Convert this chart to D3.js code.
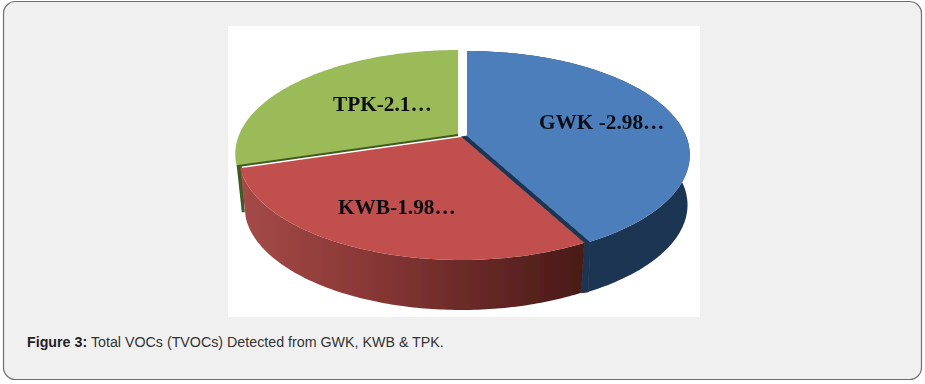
<!DOCTYPE html>
<html><head><meta charset="utf-8">
<script src="https://cdnjs.cloudflare.com/ajax/libs/d3/7.8.5/d3.min.js"></script>
<style>html,body{margin:0;padding:0;background:#fff}svg{display:block}</style>
</head><body><svg id="c" width="925" height="384"></svg>
<script>
const categories = ["GWK", "KWB", "TPK"];
const values = [2.98, 1.98, 2.1];
const labels = ["GWK -2.98…", "KWB-1.98…", "TPK-2.1…"];
const topColors = ["#4c7eba", "#c0504d", "#9bbb59"];
const captionBold = "Figure 3:";
const captionText = " Total VOCs (TVOCs) Detected from GWK, KWB & TPK.";

const svg = d3.select("#c");
const defs = svg.append("defs");
defs.append("filter").attr("id","soft").attr("x","-5%").attr("y","-5%").attr("width","110%").attr("height","110%")
  .append("feGaussianBlur").attr("stdDeviation",0.7);
defs.append("filter").attr("id","softText").attr("x","-5%").attr("y","-20%").attr("width","110%").attr("height","140%")
  .append("feGaussianBlur").attr("stdDeviation",0.4);
const grad = defs.append("linearGradient").attr("id","redWall")
  .attr("gradientUnits","userSpaceOnUse").attr("x1",246).attr("x2",582).attr("y1",0).attr("y2",0);
[[0,"#a34a47"],[0.35,"#8a3836"],[0.65,"#6b2a28"],[1,"#4a1a18"]].forEach(s=>grad.append("stop").attr("offset",s[0]).attr("stop-color",s[1]));

// page card and image panel
svg.append("rect").attr("x",3.5).attr("y",1.5).attr("width",918).attr("height",378).attr("rx",12)
  .attr("fill","#f0f0f0").attr("stroke","#6e6e6e").attr("stroke-width",1.2);
svg.append("rect").attr("x",228).attr("y",26).attr("width",472).attr("height",291).attr("fill","#fff");

// perspective view of a tilted disc
const S = 219, A = 100.5, K = 0.1827;
function project(theta, c, sx=1, dy=0) {
  const X = Math.sin(theta), Y = Math.cos(theta), d = 1 + K*Y;
  return [c[0] + sx*S*X/d, c[1] + dy - A*Y/d];
}
const arcs = d3.pie().value(d=>d).sort(null)(values);
const centers = [[467,136],[461.5,137],[458,135]];
const line = d3.line();
const rim = (a0,a1,c,sx,dy) => d3.range(0,121).map(i=>project(a0+(a1-a0)*i/120,c,sx,dy));
const chart = svg.append("g").attr("filter","url(#soft)");
const depth = 50, shrinkBlue = 0.99, shrinkRed = 0.975, blueSide = "#1f3552";

// green sliver wall
const g = arcs[2], gc = centers[2];
const gStart = project(g.startAngle,gc);
chart.append("path").attr("fill","#3f5a22")
  .attr("d",line([gStart,[gStart[0]+5,gStart[1]],[gStart[0]+8,gStart[1]+46],[gStart[0]+5,gStart[1]+46]])+"Z");
// blue outer wall
chart.append("path").attr("fill",blueSide).attr("d",
  line(rim(arcs[0].startAngle,arcs[0].endAngle,centers[0],1,0)
   .concat(rim(arcs[0].endAngle,arcs[0].startAngle,centers[0],shrinkBlue,depth)))+"Z");
// blue inner cut face, seen through the gap to the red slice
const bEnd = project(arcs[0].endAngle,centers[0]);
const bLow = project(arcs[0].endAngle,centers[0],shrinkBlue,depth);
const rEnd = project(arcs[1].startAngle,centers[1]);
const rLow = project(arcs[1].startAngle,centers[1],shrinkRed,depth);
chart.append("path").attr("fill",blueSide).attr("stroke",blueSide).attr("stroke-width",1)
  .attr("d",line([centers[0],bEnd,bLow,rLow,rEnd,centers[1]])+"Z");
// red outer wall
chart.append("path").attr("fill","url(#redWall)").attr("d",
  line(rim(arcs[1].startAngle,arcs[1].endAngle,centers[1],1,0)
   .concat(rim(arcs[1].endAngle,arcs[1].startAngle,centers[1],shrinkRed,depth)))+"Z");
// top faces
arcs.forEach((a,i)=>{
  chart.append("path").attr("fill",topColors[i])
    .attr("d",line([centers[i]].concat(rim(a.startAngle,a.endAngle,centers[i],1,0)))+"Z");
});
chart.append("path").attr("fill","none").attr("stroke","#3f5a22").attr("stroke-width",2)
  .attr("d",line([gStart,centers[2]]));

// labels
const labelPos = [[539,129],[338,214],[333,111]];
svg.selectAll("text.lab").data(labels).join("text").attr("class","lab")
  .attr("x",(d,i)=>labelPos[i][0]).attr("y",(d,i)=>labelPos[i][1])
  .attr("font-family","'Liberation Serif',serif").attr("font-weight","bold").attr("font-size",21.3)
  .attr("fill","#0c1116").attr("filter","url(#softText)").text(d=>d);

// caption
const cap = svg.append("text").attr("x",27).attr("y",347)
  .attr("font-family","'Liberation Sans',Arial,sans-serif").attr("font-size",14.25).attr("fill","#333");
cap.append("tspan").attr("font-weight","bold").attr("fill","#222").text(captionBold);
cap.append("tspan").text(captionText);
</script></body></html>
